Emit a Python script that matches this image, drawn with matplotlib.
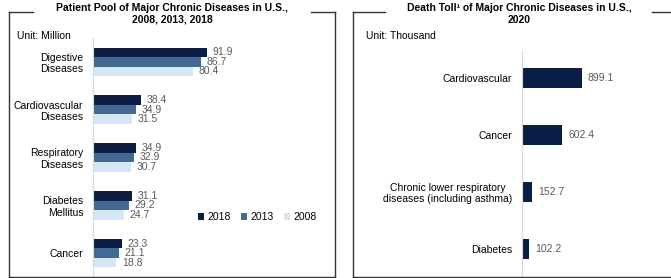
import matplotlib.pyplot as plt
import numpy as np
from matplotlib.lines import Line2D

plt.rcParams['font.family'] = ['Liberation Sans', 'DejaVu Sans']

# left panel data
pool_categories = ['Digestive\nDiseases', 'Cardiovascular\nDiseases', 'Respiratory\nDiseases',
                   'Diabetes\nMellitus', 'Cancer']
pool_2018 = [91.9, 38.4, 34.9, 31.1, 23.3]
pool_2013 = [86.7, 34.9, 32.9, 29.2, 21.1]
pool_2008 = [80.4, 31.5, 30.7, 24.7, 18.8]
years = ['2018', '2013', '2008']

# right panel data
death_categories = ['Cardiovascular', 'Cancer', 'Chronic lower respiratory\ndiseases (including asthma)',
                    'Diabetes']
death_2020 = [899.1, 602.4, 152.7, 102.2]

colors = ['#0b1e45', '#426a93', '#d5e7f5']
label_color = '#595959'
fs = 7.5

fig = plt.figure(figsize=(6.71, 2.78), dpi=100)
W, H = 671, 278


def fx(x):
    return x / W


def fy(y):
    return 1 - y / H


def frame(x0, x1, y0, y1, gap0, gap1, right=True):
    kw = dict(color='#333333', lw=1.0, transform=fig.transFigure)
    fig.add_artist(Line2D([fx(x0), fx(x0)], [fy(y0), fy(y1)], **kw))
    fig.add_artist(Line2D([fx(x0), fx(x1)], [fy(y1), fy(y1)], **kw))
    fig.add_artist(Line2D([fx(x0), fx(gap0)], [fy(y0), fy(y0)], **kw))
    fig.add_artist(Line2D([fx(gap1), fx(x1)], [fy(y0), fy(y0)], **kw))
    if right:
        fig.add_artist(Line2D([fx(x1), fx(x1)], [fy(y0), fy(y1)], **kw))


frame(9, 335, 12, 277, 33, 311)
frame(353, 672, 12, 277, 385, 652, right=False)

# ---- left panel ----
ax1 = fig.add_axes([fx(93), fy(277), fx(330 - 93), (277 - 38) / H])
y = np.arange(len(pool_categories))
bh = 0.2
for i, (vals, yr) in enumerate(zip([pool_2018, pool_2013, pool_2008], years)):
    pos = y + (i - 1) * bh
    ax1.barh(pos, vals, height=bh, color=colors[i], label=yr)
    for p, v in zip(pos, vals):
        ax1.text(v + 4.5, p, f'{v:.1f}', va='center', ha='left', fontsize=fs, color=label_color)
ax1.set_ylim(4.5, -0.5)
ax1.set_xlim(0, 191)
ax1.set_yticks(y)
ax1.set_yticklabels(pool_categories, fontsize=fs, ha='right', multialignment='right')
ax1.tick_params(axis='y', length=0, pad=7)
ax1.set_xticks([])
for s in ['top', 'right', 'bottom']:
    ax1.spines[s].set_visible(False)
ax1.spines['left'].set_color('#d9d9d9')
ax1.spines['left'].set_linewidth(0.8)
ax1.patch.set_alpha(0)
ax1.legend(loc='center', bbox_to_anchor=(fx(257), fy(217)), bbox_transform=fig.transFigure,
           ncol=3, frameon=False, fontsize=fs, handlelength=0.6, handleheight=0.6,
           handletextpad=0.3, columnspacing=1.0)

fig.text(fx(172), fy(14), 'Patient Pool of Major Chronic Diseases in U.S.,\n2008, 2013, 2018',
         ha='center', va='center', fontsize=fs, fontweight='bold', linespacing=1.25)
fig.text(fx(17), fy(36), 'Unit: Million', ha='left', va='center', fontsize=fs)

# ---- right panel ----
ax2 = fig.add_axes([fx(522), fy(277), fx(660 - 522), (277 - 50) / H])
y2 = np.arange(len(death_categories))
ax2.barh(y2, death_2020, height=0.35, color=colors[0])
for p, v in zip(y2, death_2020):
    ax2.text(v + 90, p, f'{v:.1f}', va='center', ha='left', fontsize=fs, color=label_color)
ax2.set_ylim(3.5, -0.5)
ax2.set_xlim(0, 2069)
ax2.set_yticks(y2)
ax2.set_yticklabels(death_categories, fontsize=fs, ha='right', multialignment='center')
ax2.tick_params(axis='y', length=0, pad=7)
ax2.set_xticks([])
for s in ['top', 'right', 'bottom']:
    ax2.spines[s].set_visible(False)
ax2.spines['left'].set_color('#d9d9d9')
ax2.spines['left'].set_linewidth(0.8)
ax2.patch.set_alpha(0)

fig.text(fx(519), fy(14), 'Death Toll\u00b9 of Major Chronic Diseases in U.S.,\n2020',
         ha='center', va='center', fontsize=fs, fontweight='bold', linespacing=1.25)
fig.text(fx(366), fy(36), 'Unit: Thousand', ha='left', va='center', fontsize=fs)

fig.savefig('out.png', dpi=100)
